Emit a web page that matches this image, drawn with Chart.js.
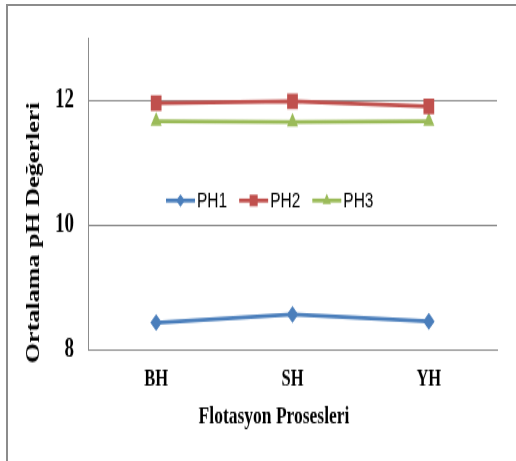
<!DOCTYPE html>
<html>
<head>
<meta charset="utf-8">
<script src="https://cdn.jsdelivr.net/npm/chart.js@4.4.1/dist/chart.umd.min.js"></script>
<style>
  html, body { margin: 0; padding: 0; background: #fff; }
  body { width: 516px; height: 461px; overflow: hidden; position: relative; }
  #frame { position: absolute; left: 6px; top: 4px; width: 530px; height: 480px; border-top: 2px solid #8c8c8c; border-left: 2px solid #8c8c8c; }
  /* the reference is stretched vertically, so the chart is drawn short and scaled up */
  #wrap { position: absolute; left: 0; top: 0; width: 516px; height: 318px; transform: scaleY(1.4497); transform-origin: 0 0; }
</style>
</head>
<body>
<div id="frame"></div>
<div id="wrap"><canvas id="phChart"></canvas></div>
<script>
const categories = ['BH', 'SH', 'YH'];
const seriesNames = ['PH1', 'PH2', 'PH3'];
const ph1 = [8.43, 8.56, 8.45];
const ph2 = [11.95, 11.98, 11.90];
const ph3 = [11.66, 11.65, 11.66];
const yTicks = [8, 10, 12];

const colors = ['#4a7ebb', '#c0504d', '#9bbb59'];
const styles = ['rectRot', 'rect', 'triangle'];
const radii = [5.8, 7.6, 6.4];
const GRID = '#8c8c8c';
const SERIF = '"Liberation Serif", "Times New Roman", serif';

// legend in the middle of the plot + the two axis titles
const decor = {
  id: 'decor',
  afterDraw(chart) {
    const ctx = chart.ctx;
    ctx.save();

    let x = 166;
    const y = 138.3;
    ctx.font = '15.5px "Liberation Sans", Arial, sans-serif';
    ctx.textBaseline = 'middle';
    ctx.textAlign = 'left';
    chart.data.datasets.forEach((ds, i) => {
      ctx.strokeStyle = ds.borderColor;
      ctx.lineWidth = 2.75;
      ctx.beginPath(); ctx.moveTo(x, y); ctx.lineTo(x + 29, y); ctx.stroke();
      ctx.fillStyle = ds.borderColor;
      Chart.helpers.drawPoint(ctx, { pointStyle: ds.pointStyle, rotation: 0, radius: radii[i] * 0.75, borderWidth: 0 }, x + 14.5, y);
      ctx.fillStyle = '#000';
      ctx.fillText(ds.label, x + 31, y + 0.5);
      x += 31 + ctx.measureText(ds.label).width + 12;
    });

    ctx.fillStyle = '#000';
    ctx.font = 'bold 17.5px ' + SERIF;
    ctx.textBaseline = 'alphabetic';
    ctx.textAlign = 'center';
    ctx.fillText('Flotasyon Prosesleri', 274, 291.7);

    ctx.translate(38.5, 250.5);
    ctx.rotate(-Math.PI / 2);
    ctx.textAlign = 'left';
    ctx.font = 'bold 18px ' + SERIF;
    ctx.fillText('Ortalama pH Değerleri', 0, 0);
    ctx.restore();
  }
};

const seriesData = [ph1, ph2, ph3];

new Chart(document.getElementById('phChart'), {
  type: 'line',
  data: {
    labels: categories,
    datasets: seriesNames.map((name, i) => ({
      label: name,
      data: seriesData[i],
      borderColor: colors[i],
      backgroundColor: colors[i],
      pointBackgroundColor: colors[i],
      pointBorderColor: colors[i],
      pointBorderWidth: 0,
      pointStyle: styles[i],
      pointRadius: radii[i],
      borderWidth: 2.75,
      tension: 0,
      fill: false
    }))
  },
  options: {
    responsive: true,
    maintainAspectRatio: false,
    animation: false,
    layout: { padding: { top: 26, right: 19, left: 0, bottom: 0 } },
    plugins: { legend: { display: false }, tooltip: { enabled: false } },
    scales: {
      x: {
        offset: true,
        grid: { display: false, drawTicks: false },
        border: { display: true, color: GRID, width: 1 },
        ticks: { color: '#000', padding: 11, font: { family: SERIF, size: 16.5, weight: 'bold' } },
        afterFit: (s) => { s.height = 77; }
      },
      y: {
        min: 8,
        max: 13,
        afterBuildTicks: (s) => { s.ticks = yTicks.map(v => ({ value: v })); },
        grid: { color: GRID, lineWidth: 1, drawTicks: false },
        border: { display: true, color: GRID, width: 1 },
        ticks: { color: '#000', padding: 14, font: { family: SERIF, size: 19, weight: 'bold' } },
        afterFit: (s) => { s.width = 88; }
      }
    }
  },
  plugins: [decor]
});
</script>
</body>
</html>
